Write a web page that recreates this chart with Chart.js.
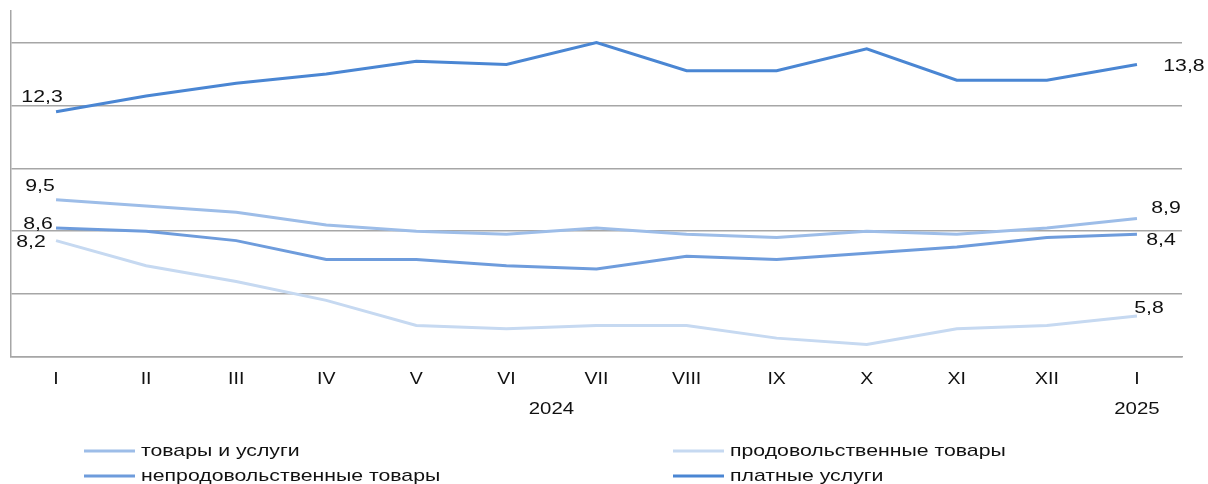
<!DOCTYPE html>
<html>
<head>
<meta charset="utf-8">
<script src="https://cdn.jsdelivr.net/npm/chart.js@4"></script>
<style>
  body { margin: 0; background: #fff; }
</style>
</head>
<body>
<canvas id="inflation" width="1208" height="484"></canvas>
<script>
const months = ['I', 'II', 'III', 'IV', 'V', 'VI', 'VII', 'VIII', 'IX', 'X', 'XI', 'XII', 'I'];
const years = ['2024', '2025'];
const yearFirst = [0, 12];
const yearLast = [11, 12];

const goodsServices = [9.5, 9.3, 9.1, 8.7, 8.5, 8.4, 8.6, 8.4, 8.3, 8.5, 8.4, 8.6, 8.9];
const foodGoods = [8.2, 7.4, 6.9, 6.3, 5.5, 5.4, 5.5, 5.5, 5.1, 4.9, 5.4, 5.5, 5.8];
const nonFoodGoods = [8.6, 8.5, 8.2, 7.6, 7.6, 7.4, 7.3, 7.7, 7.6, 7.8, 8.0, 8.3, 8.4];
const paidServices = [12.3, 12.8, 13.2, 13.5, 13.9, 13.8, 14.5, 13.6, 13.6, 14.3, 13.3, 13.3, 13.8];

const yTicks = [4.5, 6.5, 8.5, 10.5, 12.5, 14.5];

const FONT = '17px "Liberation Sans", Arial, sans-serif';
const TEXT_COLOR = '#111';

// where the first/last value labels sit relative to their point
const labelOffsets = {
  first: [[-16, -13], [-25, 2], [-18, -4], [-14, -14]],
  last: [[29, -10], [12, -8], [24, 6], [47, 2]]
};

const fmt = v => v.toFixed(1).replace('.', ',');

// the original's text is drawn a bit wider than normal
function wideText(ctx, text, x, y, align, stretch) {
  ctx.save();
  ctx.translate(x, y);
  ctx.scale(stretch, 1);
  ctx.font = FONT;
  ctx.fillStyle = TEXT_COLOR;
  ctx.textAlign = align;
  ctx.textBaseline = 'middle';
  ctx.fillText(text, 0, 0);
  ctx.restore();
}

const endLabels = {
  id: 'endLabels',
  afterDatasetsDraw(chart) {
    const ctx = chart.ctx;
    chart.data.datasets.forEach((ds, i) => {
      const pts = chart.getDatasetMeta(i).data;
      const n = pts.length - 1;
      const a = labelOffsets.first[i], b = labelOffsets.last[i];
      wideText(ctx, fmt(ds.data[0]), pts[0].x + a[0], pts[0].y + a[1], 'center', 1.25);
      wideText(ctx, fmt(ds.data[n]), pts[n].x + b[0], pts[n].y + b[1], 'center', 1.25);
    });
  }
};

const axisText = {
  id: 'axisText',
  afterDraw(chart) {
    const ctx = chart.ctx;
    const x = chart.scales.x;
    x.ticks.forEach((t, i) => {
      wideText(ctx, months[i], x.getPixelForTick(i), 379, 'center', 1.15);
    });
    years.forEach((y, i) => {
      const cx = (x.getPixelForValue(yearFirst[i]) + x.getPixelForValue(yearLast[i])) / 2;
      wideText(ctx, y, cx, 409, 'center', 1.2);
    });
  }
};

const gridLegend = {
  id: 'gridLegend',
  afterDraw(chart) {
    const ctx = chart.ctx;
    const cols = [84, 673];
    const rows = [451, 476];
    chart.data.datasets.forEach((ds, i) => {
      const x = cols[i % 2], y = rows[Math.floor(i / 2)];
      ctx.save();
      ctx.strokeStyle = ds.borderColor;
      ctx.lineWidth = 3;
      ctx.beginPath();
      ctx.moveTo(x, y);
      ctx.lineTo(x + 51, y);
      ctx.stroke();
      ctx.restore();
      wideText(ctx, ds.label, x + 57, y, 'left', 1.25);
    });
  }
};

const ctx = document.getElementById('inflation').getContext('2d');
const chart = new Chart(ctx, {
  type: 'line',
  data: {
    labels: months,
    datasets: [
      { label: 'товары и услуги', data: goodsServices, borderColor: '#9dbde8' },
      { label: 'продовольственные товары', data: foodGoods, borderColor: '#c6d9f1' },
      { label: 'непродовольственные товары', data: nonFoodGoods, borderColor: '#6e9cdc' },
      { label: 'платные услуги', data: paidServices, borderColor: '#4a86d3' }
    ]
  },
  options: {
    responsive: false,
    animation: false,
    layout: { padding: { top: 11, right: 26, left: 0, bottom: 0 } },
    elements: {
      line: { borderWidth: 3, tension: 0 },
      point: { radius: 0 }
    },
    plugins: {
      legend: { display: false },
      tooltip: { enabled: false }
    },
    scales: {
      x: {
        offset: true,
        grid: { display: false },
        border: { display: true, color: '#a6a6a6', width: 1.5 },
        ticks: { display: false },
        afterFit: s => { s.height = 127; }
      },
      y: {
        min: 4.5,
        max: 15.5,
        afterBuildTicks: s => { s.ticks = yTicks.map(v => ({ value: v })); },
        grid: { color: '#a6a6a6', lineWidth: 1.5, drawTicks: false },
        border: { display: true, color: '#a6a6a6', width: 1.5 },
        ticks: { display: false },
        afterFit: s => { s.width = 11; }
      }
    }
  },
  plugins: [endLabels, axisText, gridLegend]
});
</script>
</body>
</html>
